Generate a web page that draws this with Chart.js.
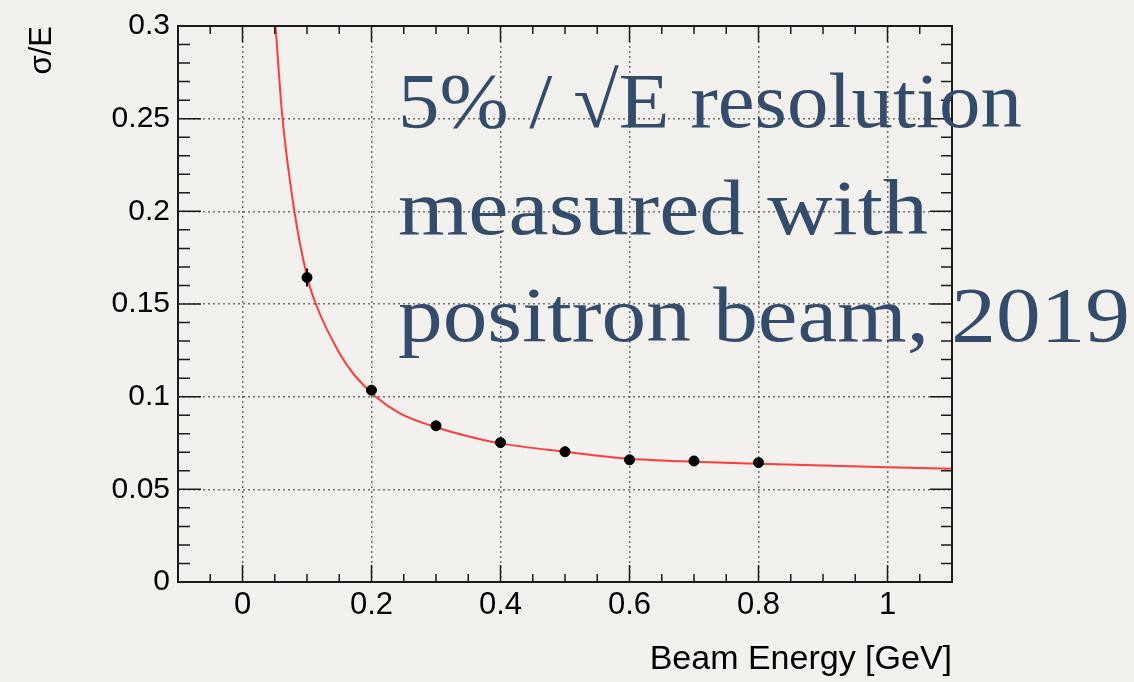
<!DOCTYPE html>
<html>
<head>
<meta charset="utf-8">
<script src="https://cdn.jsdelivr.net/npm/chart.js@4/dist/chart.umd.min.js"></script>
<style>
  html, body { margin: 0; padding: 0; background: #f3f1ed; }
  #wrap { width: 1134px; height: 682px; }
</style>
</head>
<body>
<div id="wrap"><canvas id="resChart"></canvas></div>
<script>
// measured points (beam energy in GeV, sigma/E)
const beamEnergy = [0.1, 0.2, 0.3, 0.4, 0.5, 0.6, 0.7, 0.8];
const sigmaOverE = [0.1643, 0.1035, 0.0843, 0.0752, 0.0703, 0.0659, 0.0653, 0.0644];
const sigmaErr = [0.0049, 0.0012, 0.0010, 0.0008, 0.0007, 0.0007, 0.0007, 0.0007];

// fit curve
const fitEnergy = [0.0512, 0.0615, 0.080, 0.100, 0.1137, 0.151, 0.1716, 0.2068, 0.244, 0.300, 0.3526, 0.400, 0.500, 0.600, 0.725, 0.800, 1.000, 1.100];
const fitSigma = [0.300, 0.252, 0.201, 0.165, 0.150, 0.123, 0.1125, 0.100, 0.0910, 0.0835, 0.0784, 0.0748, 0.0703, 0.0665, 0.0646, 0.0638, 0.0619, 0.0611];

const xTicks = [0, 0.2, 0.4, 0.6, 0.8, 1];
const xTickLabels = ['0', '0.2', '0.4', '0.6', '0.8', '1'];
const yTicks = [0, 0.05, 0.1, 0.15, 0.2, 0.25, 0.3];
const yTickLabels = ['0', '0.05', '0.1', '0.15', '0.2', '0.25', '0.3'];

const noteLines = ['5% / √E resolution', 'measured with', 'positron beam, 2019'];

const paper = {
  id: 'paper',
  beforeDraw(chart) {
    const ctx = chart.ctx;
    ctx.save();
    ctx.fillStyle = '#f3f1ed';
    ctx.fillRect(0, 0, chart.width, chart.height);
    ctx.restore();
  }
};

const errorBars = {
  id: 'errorBars',
  afterDatasetsDraw(chart) {
    const {ctx, scales: {x, y}} = chart;
    ctx.save();
    ctx.strokeStyle = '#000';
    ctx.lineWidth = 2;
    ctx.beginPath();
    beamEnergy.forEach((e, i) => {
      const px = x.getPixelForValue(e);
      ctx.moveTo(px, y.getPixelForValue(sigmaOverE[i] - sigmaErr[i]));
      ctx.lineTo(px, y.getPixelForValue(sigmaOverE[i] + sigmaErr[i]));
    });
    ctx.stroke();
    ctx.restore();
  }
};

// ROOT style frame with inward ticks on all four sides
const rootFrame = {
  id: 'rootFrame',
  afterDraw(chart) {
    const {ctx, chartArea: a, scales: {x, y}} = chart;
    ctx.save();
    ctx.strokeStyle = '#1a1a1a';
    ctx.lineWidth = 1.5;
    ctx.beginPath();
    for (let i = -2; i <= 22; i++) {
      const px = x.getPixelForValue(i * 0.05);
      const major = i % 4 === 0;
      ctx.moveTo(px, a.bottom); ctx.lineTo(px, a.bottom - (major ? 17 : 8));
      ctx.moveTo(px, a.top); ctx.lineTo(px, a.top + (major ? 16 : 8));
    }
    for (let i = 0; i <= 30; i++) {
      const py = y.getPixelForValue(i * 0.01);
      const major = i % 5 === 0;
      ctx.moveTo(a.left, py); ctx.lineTo(a.left + (major ? 23 : 12), py);
      ctx.moveTo(a.right, py); ctx.lineTo(a.right - (major ? 22 : 11), py);
    }
    ctx.stroke();
    ctx.lineWidth = 2;
    ctx.strokeRect(a.left, a.top, a.right - a.left, a.bottom - a.top);
    ctx.restore();
  }
};

// slide text laid over the plot, each line stretched to its width in the picture
const note = {
  id: 'note',
  afterDraw(chart) {
    const ctx = chart.ctx;
    const widths = [624, 530, 732];
    ctx.save();
    ctx.font = '78px "Liberation Serif", serif';
    ctx.fillStyle = '#344c6b';
    ctx.textBaseline = 'alphabetic';
    noteLines.forEach((t, i) => {
      const sx = widths[i] / ctx.measureText(t).width;
      ctx.save();
      ctx.translate(398, 127 + i * 107);
      ctx.scale(sx, 1);
      ctx.fillText(t, 0, 0);
      ctx.restore();
    });
    ctx.restore();
  }
};

const chart = new Chart(document.getElementById('resChart'), {
  type: 'scatter',
  data: {
    datasets: [
      {
        label: 'data',
        data: beamEnergy.map((e, i) => ({x: e, y: sigmaOverE[i]})),
        backgroundColor: '#000',
        borderColor: '#000',
        pointRadius: 5,
        pointHoverRadius: 5
      },
      {
        label: 'fit',
        data: fitEnergy.map((e, i) => ({x: e, y: fitSigma[i]})),
        showLine: true,
        borderColor: 'rgb(255, 60, 60)',
        borderWidth: 2,
        pointRadius: 0,
        cubicInterpolationMode: 'monotone'
      }
    ]
  },
  options: {
    responsive: true,
    maintainAspectRatio: false,
    animation: false,
    layout: { padding: { left: 0, top: 22, right: 182, bottom: 0 } },
    plugins: { legend: { display: false }, tooltip: { enabled: false } },
    scales: {
      x: {
        type: 'linear',
        min: -0.1,
        max: 1.1,
        afterBuildTicks: s => { s.ticks = xTicks.map(v => ({value: v})); },
        afterFit: s => { s.height = 100; },
        grid: { color: 'rgba(80,80,80,0.8)', lineWidth: 1.5, drawTicks: false },
        border: { display: false, dash: [2, 3] },
        ticks: {
          padding: 5,
          color: '#000',
          font: { family: '"Liberation Sans", Arial, sans-serif', size: 31 },
          callback: (v, i) => xTickLabels[i],
          maxRotation: 0
        },
        title: {
          display: true,
          text: 'Beam Energy [GeV]',
          align: 'end',
          color: '#000',
          padding: { top: 0, bottom: 2 },
          font: { family: '"Liberation Sans", Arial, sans-serif', size: 34 }
        }
      },
      y: {
        min: 0,
        max: 0.3,
        afterBuildTicks: s => { s.ticks = yTicks.map(v => ({value: v})); },
        afterFit: s => { s.width = 178; },
        grid: { color: 'rgba(80,80,80,0.8)', lineWidth: 1.5, drawTicks: false },
        border: { display: false, dash: [2, 3] },
        ticks: {
          padding: 8,
          color: '#000',
          font: { family: '"Liberation Sans", Arial, sans-serif', size: 30 },
          callback: (v, i) => yTickLabels[i]
        },
        title: {
          display: true,
          text: 'σ/E',
          align: 'end',
          color: '#000',
          padding: { top: 24, bottom: 0 },
          font: { family: '"Liberation Sans", Arial, sans-serif', size: 31 }
        }
      }
    }
  },
  plugins: [paper, errorBars, rootFrame, note]
});
</script>
</body>
</html>
